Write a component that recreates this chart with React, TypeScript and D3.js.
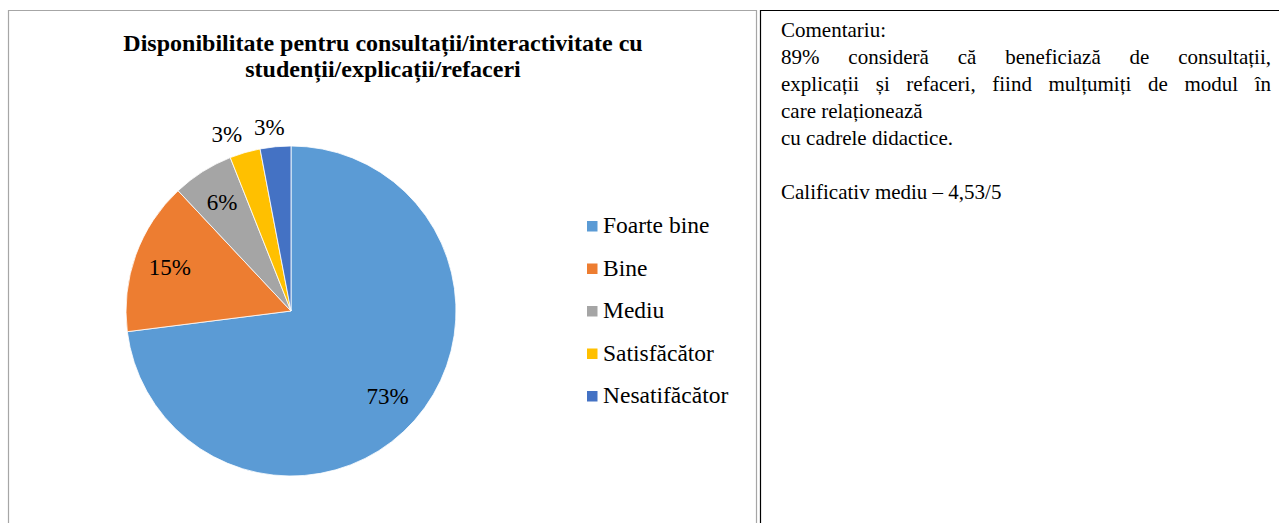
import React from 'react'
import * as d3 from 'd3'

const categories = ['Foarte bine', 'Bine', 'Mediu', 'Satisfăcător', 'Nesatifăcător']
const shares = [73, 15, 6, 3, 3]
const colors = ['#5B9BD5', '#ED7D31', '#A5A5A5', '#FFC000', '#4472C4']
const titleLines = ['Disponibilitate pentru consultații/interactivitate cu', 'studenții/explicații/refaceri']
const commentLines = [
  { text: 'Comentariu:', justify: false },
  { text: '89% consideră că beneficiază de consultații,', justify: true },
  { text: 'explicații și refaceri, fiind mulțumiți de modul în', justify: true },
  { text: 'care relaționează', justify: false },
  { text: 'cu cadrele didactice.', justify: false },
  { text: '', justify: false },
  { text: 'Calificativ mediu – 4,53/5', justify: false },
]

const W = 1279
const H = 523
const FONT = '"Liberation Serif", "Times New Roman", serif'
const cx = 291
const cy = 311
const radius = 165

const canvas = document.createElement('canvas')
const ctx = canvas.getContext('2d')!
function measure(t: string, size: number) {
  ctx.font = `${size}px "Liberation Serif"`
  return ctx.measureText(t).width
}

// lay out a justified line word by word
function justifyWords(text: string, x0: number, width: number, size: number) {
  const words = text.split(' ')
  const total = words.reduce((s, w) => s + measure(w, size), 0)
  const gap = (width - total) / (words.length - 1)
  let x = x0
  return words.map(w => {
    const pos = x
    x += measure(w, size) + gap
    return { w, x: pos }
  })
}

export default function App() {
  const total = d3.sum(shares)
  const pie = d3.pie<number>().sort(null).value(d => d)
  const arcs = pie(shares)
  const arc = d3.arc<d3.PieArcDatum<number>>().innerRadius(0).outerRadius(radius)

  // big slices get the label inside, small ones just outside the rim
  const labelPos = (a: d3.PieArcDatum<number>) => {
    const small = a.value / total < 0.05
    const mid = (a.startAngle + a.endAngle) / 2
    const r = small ? radius * 1.12 : radius * 0.78
    const dx = small ? Math.sin(mid) * 45 : 0
    return [Math.sin(mid) * r + dx, -Math.cos(mid) * r]
  }

  const commentSize = 21
  const commentX = 781
  const commentW = 490

  return (
    <svg width={W} height={H} style={{ position: 'absolute', left: 0, top: 0, background: '#fff' }} fontFamily={FONT}>
      {/* chart frame */}
      <path d={`M8.5,${H} V10.5 H756.5 V${H}`} fill="none" stroke="#a6a6a6" strokeWidth={1.2} />
      {/* table border */}
      <path d={`M760.5,${H} V10.5 H${W}`} fill="none" stroke="#000" strokeWidth={1.2} />

      {titleLines.map((t, i) => (
        <text key={i} x={383} y={51 + i * 26} textAnchor="middle" fontWeight="bold" fontSize={24} fill="#000">{t}</text>
      ))}

      <g transform={`translate(${cx},${cy})`}>
        {arcs.map((a, i) => (
          <path key={i} d={arc(a)!} fill={colors[i]} stroke="#fff" strokeWidth={0.8} />
        ))}
        {arcs.map((a, i) => {
          const [x, y] = labelPos(a)
          return (
            <text key={'l' + i} x={x} y={y} dy="0.35em" textAnchor="middle" fontSize={23} fill="#000">
              {d3.format('.0%')(a.value / total)}
            </text>
          )
        })}
      </g>

      {categories.map((c, i) => (
        <g key={c} transform={`translate(587,${233 + i * 42.5})`}>
          <rect x={0} y={-12} width={10.5} height={10.5} fill={colors[i]} />
          <text x={16} y={0} fontSize={23.5} fill="#000">{c}</text>
        </g>
      ))}

      {commentLines.map((l, i) => {
        const y = 37 + i * 27
        if (!l.text) return null
        if (!l.justify) {
          return <text key={'c' + i} x={commentX} y={y} fontSize={commentSize} fill="#000">{l.text}</text>
        }
        return (
          <text key={'c' + i} y={y} fontSize={commentSize} fill="#000">
            {justifyWords(l.text, commentX, commentW, commentSize).map((w, j) => (
              <tspan key={j} x={w.x}>{w.w}</tspan>
            ))}
          </text>
        )
      })}
    </svg>
  )
}
